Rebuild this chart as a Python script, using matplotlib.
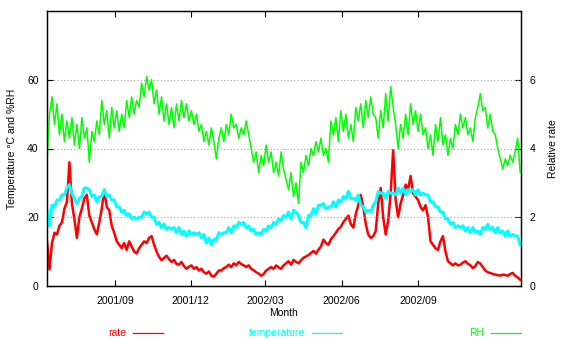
import matplotlib
matplotlib.use('Agg')
import matplotlib.pyplot as plt
import matplotlib.dates as mdates
from matplotlib.lines import Line2D
import pandas as pd

plt.rcParams['font.family'] = ['Liberation Sans', 'DejaVu Sans']

# samples every 3 days
start = '2001-06-11'
n_points = 191

rate = [
    1.30, 0.48, 1.25, 1.55, 1.50, 1.75, 1.85, 2.25, 2.45, 3.60,
    2.40, 1.95, 1.40, 2.00, 2.25, 2.55, 2.65, 2.05, 1.85, 1.65,
    1.50, 1.85, 2.25, 2.80, 2.30, 2.20, 1.75, 1.55, 1.30, 1.20,
    1.10, 1.25, 1.05, 1.30, 1.15, 1.00, 0.95, 1.10, 1.20, 1.30,
    1.25, 1.40, 1.45, 1.20, 1.00, 0.85, 0.75, 0.82, 0.88, 0.78,
    0.70, 0.76, 0.64, 0.62, 0.70, 0.58, 0.50, 0.56, 0.60, 0.50,
    0.55, 0.45, 0.50, 0.40, 0.36, 0.42, 0.30, 0.27, 0.36, 0.45,
    0.45, 0.52, 0.55, 0.62, 0.55, 0.66, 0.60, 0.70, 0.64, 0.60,
    0.55, 0.60, 0.50, 0.46, 0.40, 0.36, 0.30, 0.35, 0.45, 0.50,
    0.55, 0.50, 0.60, 0.54, 0.50, 0.60, 0.66, 0.72, 0.62, 0.76,
    0.70, 0.66, 0.75, 0.82, 0.86, 0.90, 0.96, 1.02, 0.94, 1.06,
    1.15, 1.35, 1.25, 1.20, 1.36, 1.45, 1.55, 1.66, 1.72, 1.86,
    1.95, 2.05, 1.80, 1.70, 2.10, 2.35, 2.65, 2.30, 1.80, 1.50,
    1.40, 1.45, 1.60, 2.40, 2.85, 2.00, 1.50, 1.90, 2.70, 3.95,
    2.50, 2.00, 2.40, 2.65, 2.95, 2.80, 3.20, 2.70, 2.60, 2.50,
    2.30, 2.20, 2.35, 2.00, 1.30, 1.20, 1.10, 1.05, 1.30, 1.45,
    1.00, 0.72, 0.66, 0.60, 0.66, 0.60, 0.62, 0.68, 0.72, 0.65,
    0.60, 0.52, 0.58, 0.70, 0.65, 0.55, 0.45, 0.40, 0.38, 0.35,
    0.33, 0.32, 0.30, 0.33, 0.32, 0.30, 0.35, 0.38, 0.30, 0.25,
    0.18,
]

temperature = [
    22, 17.5, 23.5, 23, 25, 25, 26.5, 26.5, 28.5, 29.5,
    27, 25.5, 24, 25.5, 26, 28.5, 28.5, 28, 26, 26.5,
    24.5, 26, 26, 28, 26, 26.5, 25, 25, 23, 23,
    21.5, 22, 20.5, 21, 19.5, 20, 19.5, 20, 20, 21.5,
    21, 21.5, 20, 20, 18, 18.5, 17, 18, 16.5, 17,
    16.5, 17, 15.5, 17, 15, 16, 14.5, 16, 15, 15.5,
    15, 15.5, 14, 15, 12.5, 14, 12, 13.5, 13.5, 15.5,
    15, 15.5, 15.5, 17, 15.5, 17.5, 17, 18.5, 18, 18.5,
    17, 17.5, 16, 16.5, 15, 15.5, 15, 16.5, 16, 17.5,
    17, 18.5, 18, 19.5, 19, 20.5, 20, 21.5, 19.5, 22,
    21.5, 20.5, 18.5, 18.5, 17, 20.5, 20.5, 22.5, 21, 23.5,
    23.5, 24, 22.5, 23, 23, 24.5, 23, 25, 24.5, 26,
    25.5, 27.5, 25.5, 25.5, 25, 26.5, 23.5, 23, 21.5, 22,
    21.5, 23.5, 24.5, 27.5, 27, 27, 25.5, 27.5, 27, 27,
    26.5, 28.5, 27, 28.5, 26.5, 28, 27.5, 28, 26.5, 28,
    26.5, 27, 26.5, 26.5, 24.5, 24.5, 23, 23, 21.5, 21.5,
    19.5, 19.5, 18, 18.5, 17, 17.5, 17, 17.5, 16, 17,
    15.5, 17, 15.5, 16, 15, 17, 16.5, 18, 16.5, 17,
    15.5, 17, 15.5, 16, 14.5, 16, 14.5, 15, 14.5, 14.5,
    12,
]

rh = [
    36, 50, 55, 47, 53, 44, 50, 42, 48, 43,
    49, 41, 47, 40, 49, 43, 46, 36, 45, 42,
    48, 44, 54, 47, 51, 43, 52, 46, 51, 45,
    50, 46, 54, 49, 55, 50, 54, 52, 59, 55,
    61, 57, 60, 53, 57, 50, 55, 48, 53, 47,
    52, 46, 53, 48, 54, 49, 53, 48, 51, 47,
    50, 45, 47, 42, 45, 41, 46, 42, 37, 43,
    46, 42, 47, 44, 50, 46, 47, 43, 46, 44,
    48, 44, 40, 36, 39, 33, 38, 35, 41, 36,
    39, 33, 36, 32, 39, 34, 31, 28, 33, 26,
    30, 24, 36, 33, 38, 35, 40, 38, 42, 39,
    43, 38, 40, 36, 48, 44, 49, 42, 51, 45,
    50, 43, 47, 42, 52, 48, 53, 46, 54, 49,
    55, 50, 49, 43, 51, 46, 56, 48, 58, 52,
    47, 40, 47, 43, 50, 44, 53, 47, 51, 45,
    50, 44, 46, 40, 44, 38, 47, 42, 49, 41,
    44, 38, 43, 40, 47, 44, 50, 46, 49, 44,
    46, 42, 49, 52, 56, 51, 52, 46, 50, 45,
    44, 40, 37, 34, 37, 35, 38, 36, 39, 43,
    33,
]

tick_months = ['2001-09-01', '2001-12-01', '2002-03-01', '2002-06-01', '2002-09-01']

dates = pd.date_range(start, periods=n_points, freq='3D')

fig = plt.figure(figsize=(5.61, 3.39), dpi=100)
ax = fig.add_axes([47/561, 1 - 286/339, 474/561, 275/339])
ax2 = ax.twinx()

# rate on the right axis, drawn beneath the other two
ax2.plot(dates, rate, color='#ff0000', lw=1.8)
ax.set_zorder(ax2.get_zorder() + 1)
ax.patch.set_visible(False)
ax.plot(dates, temperature, color='#00ffff', lw=2.2)
ax.plot(dates, rh, color='#00ff00', lw=1.1)

ax.set_xlim(pd.Timestamp('2001-06-11'), pd.Timestamp('2003-01-03'))
ax.set_ylim(0, 80)
ax2.set_ylim(0, 8)
ax.set_yticks([0, 20, 40, 60])
ax2.set_yticks([0, 2, 4, 6])
ax.set_xticks(pd.to_datetime(tick_months))
ax.xaxis.set_major_formatter(mdates.DateFormatter('%Y/%m'))

for y in [20, 40, 60]:
    ax.axhline(y, color='#a0a0a0', lw=0.8, ls=(0, (1, 2)), zorder=0)

fs = 7.5
ax.tick_params(axis='x', direction='in', top=True, length=4, labelsize=fs, pad=7)
ax.tick_params(axis='y', direction='in', length=4, labelsize=fs, pad=6)
ax2.tick_params(axis='y', direction='in', length=4, labelsize=fs, pad=6)
for a in (ax, ax2):
    for s in a.spines.values():
        s.set_linewidth(0.9)

ax.set_xlabel('Month', fontsize=fs, labelpad=2)
ax.set_ylabel('Temperature °C and %RH', fontsize=fs, labelpad=7)
ax2.set_ylabel('Relative rate', fontsize=fs, labelpad=9)

# legend row below the plot, gnuplot style: text then sample line
legend_items = [('rate', '#ff0000', 163), ('temperature', '#00ffff', 342), ('RH', '#00ff00', 521)]
y_leg = 1 - 333/339
for label, col, x_end in legend_items:
    fig.text((x_end - 37)/561, y_leg, label, color=col, fontsize=fs,
             ha='right', va='center')
    fig.add_artist(Line2D([(x_end - 30)/561, x_end/561], [y_leg, y_leg],
                          color=col, lw=0.9, transform=fig.transFigure))

fig.savefig('out.png', dpi=100)
